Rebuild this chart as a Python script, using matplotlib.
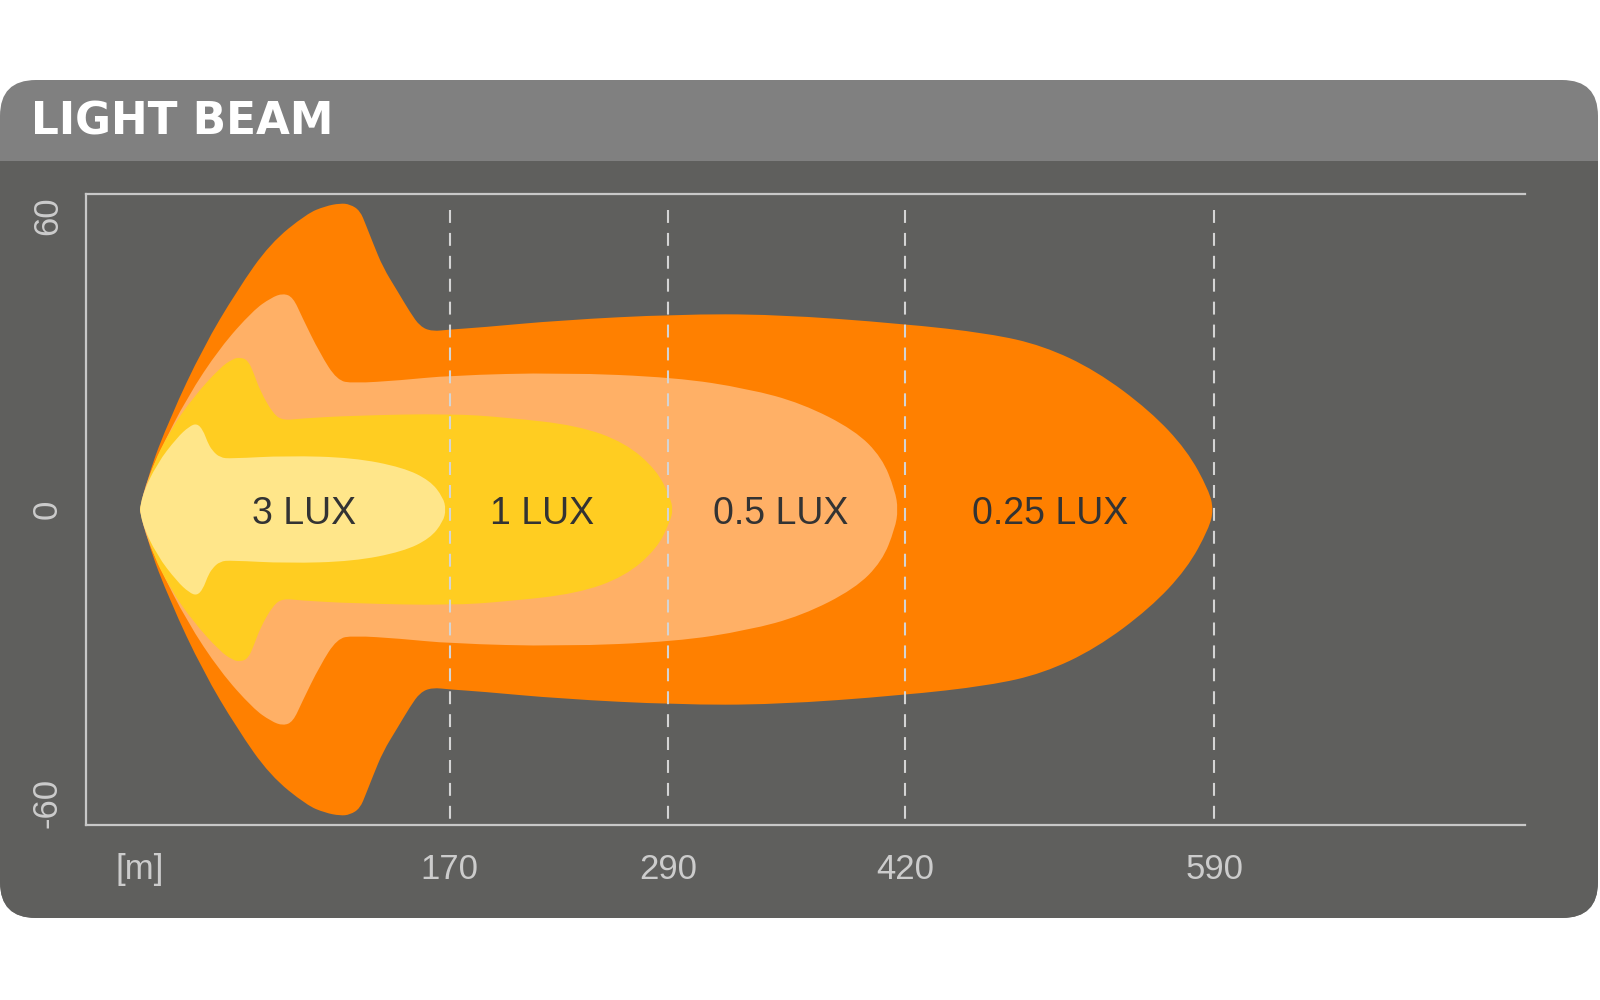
import numpy as np
import matplotlib
matplotlib.use("Agg")
import matplotlib.pyplot as plt
from matplotlib.patches import FancyBboxPatch, Rectangle, PathPatch
from matplotlib.path import Path

# beam outlines, upper half (mirrored below the axis): distance [m], half width
x_025 = [0, 3.8, 16.5, 34.6, 53.3, 71.4, 91.7, 101.6, 109.8, 115.3, 120.8, 124.1,
         128.0, 133.4, 141.1, 148.3, 153.8, 160.4, 170.2, 186.7, 231.2, 294.3,
         348.7, 418.5, 466.2, 495.9, 525.0, 554.6, 575.0, 587.0, 589.5]
w_025 = [0, 6.5, 18.8, 33.1, 44.8, 54.4, 60.5, 62.0, 62.6, 62.4, 61.1, 58.1,
         54.4, 49.5, 44.8, 40.3, 37.4, 36.4, 36.8, 37.2, 38.7, 39.9,
         39.9, 38.0, 36.0, 33.5, 28.4, 20.2, 12.1, 3.9, 0]

x_05 = [0, 1.6, 11.0, 25.8, 43.9, 62.1, 72.0, 78.5, 84.0, 89.0, 98.8, 108.2,
        117.0, 142.8, 170.2, 231.2, 294.3, 333.9, 363.5, 392.6, 407.5, 414.6, 416.3]
w_05 = [0, 3.9, 12.1, 22.9, 33.1, 40.7, 43.3, 44.2, 43.4, 39.3, 31.9, 26.4,
        25.8, 26.4, 27.4, 28.0, 27.0, 24.7, 21.7, 16.2, 10.6, 3.9, 0]

x_1 = [0, 5.5, 16.5, 29.1, 43.9, 51.0, 54.9, 59.3, 62.5, 65.9, 73.0, 78.5,
       87.9, 117.0, 170.2, 201.5, 240.0, 266.3, 283.9, 291.0, 292.7]
w_1 = [0, 8.0, 16.2, 22.9, 29.0, 30.8, 31.1, 30.5, 27.8, 24.3, 19.6, 18.2,
       18.6, 19.2, 19.6, 18.8, 17.2, 13.7, 8.0, 2.5, 0]

x_3 = [0, 0.5, 9.3, 20.3, 27.0, 31.3, 34.6, 37.0, 39.5, 43.9, 50.0, 80.7,
       117.0, 144.4, 159.3, 166.4, 168.0]
w_3 = [0, 2.5, 9.4, 14.7, 17.0, 17.6, 16.2, 13.8, 12.1, 10.6, 10.4, 11.0,
       10.6, 8.6, 5.9, 2.5, 0]

lux_labels = ["0.25 LUX", "0.5 LUX", "1 LUX", "3 LUX"]
lux_label_x = [500, 352, 221, 90]
lux_colors = ["#ff8000", "#ffb066", "#ffcd21", "#ffe68a"]
outlines = [(x_025, w_025), (x_05, w_05), (x_1, w_1), (x_3, w_3)]

x_ticks = [0, 170, 290, 420, 590]
x_ticklabels = ["[m]", "170", "290", "420", "590"]
y_ticks = [-60, 0, 60]
y_ticklabels = ["-60", "0", "60"]


def beam_path(xs, ws):
    # closed outline: sharp tip at the lamp, smooth quadratic curve elsewhere
    upper = list(zip(xs, ws))
    lower = [(x, -w) for x, w in zip(xs[-2:0:-1], ws[-2:0:-1])]
    tip = upper[0]
    ctrl = upper[1:] + lower
    verts = [tip]
    codes = [Path.MOVETO]
    for i, c in enumerate(ctrl):
        if i + 1 < len(ctrl):
            n = ctrl[i + 1]
            end = ((c[0] + n[0]) / 2, (c[1] + n[1]) / 2)
        else:
            end = tip
        verts += [c, end]
        codes += [Path.CURVE3, Path.CURVE3]
    verts.append(tip)
    codes.append(Path.CLOSEPOLY)
    return Path(verts, codes)


plt.rcParams["font.family"] = ["Liberation Sans", "DejaVu Sans"]

fig = plt.figure(figsize=(16, 10), dpi=100)

# panel background in pixel units
bg = fig.add_axes([0, 0, 1, 1])
bg.set_xlim(0, 1600)
bg.set_ylim(1000, 0)
bg.axis("off")
bg.add_patch(FancyBboxPatch((0, 80), 1598, 838, boxstyle="round,pad=0,rounding_size=36",
                            fc="#808080", ec="none"))
bg.add_patch(FancyBboxPatch((0, 161), 1598, 757, boxstyle="round,pad=0,rounding_size=36",
                            fc="#5f5f5d", ec="none"))
bg.add_patch(Rectangle((0, 161), 1598, 60, fc="#5f5f5d", ec="none"))
bg.text(31, 122, "LIGHT BEAM", fontsize=31.5, fontweight="bold", color="white",
        family="DejaVu Sans", ha="left", va="center")

ax = fig.add_axes([86 / 1600, 1 - 825 / 1000, (1525 - 86) / 1600, (825 - 194) / 1000])
ax.patch.set_alpha(0)
ax.set_xlim(-29.7, 760.6)
ax.set_ylim(-64.5, 64.5)

for (xs, ws), c in zip(outlines, lux_colors):
    ax.add_patch(PathPatch(beam_path(xs, ws), fc=c, ec="none", zorder=2))

for lab, lx in zip(lux_labels, lux_label_x):
    ax.text(lx, -1.0, lab, ha="center", va="center", fontsize=27, color="#333333", zorder=4)

for xv in x_ticks[1:]:
    ax.plot([xv, xv], [61.3, -64.5], color="#d4d4d4", lw=1.5,
            linestyle=(0, (6.2, 4.8)), zorder=3)

for side in ["left", "top", "bottom"]:
    ax.spines[side].set_color("#c8c8c8")
    ax.spines[side].set_linewidth(1.6)
ax.spines["right"].set_visible(False)

ax.set_xticks(x_ticks)
ax.set_xticklabels(x_ticklabels)
ax.set_yticks(y_ticks)
ax.set_yticklabels(y_ticklabels, rotation=90, va="center")
ax.tick_params(axis="x", length=0, pad=20, labelsize=25, labelcolor="#cccccc")
ax.tick_params(axis="y", length=0, pad=16, labelsize=25, labelcolor="#cccccc")

fig.savefig("out.png", dpi=100, facecolor="white")
